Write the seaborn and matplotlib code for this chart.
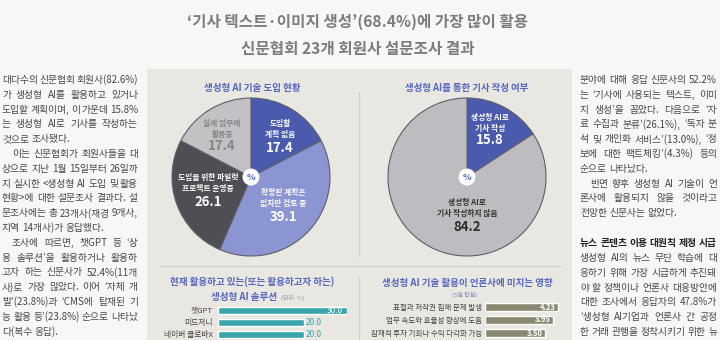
import matplotlib
matplotlib.use("Agg")
import matplotlib.pyplot as plt
from matplotlib.patches import Rectangle, Circle
from matplotlib.lines import Line2D
import seaborn as sns
import pandas as pd

# ---------------- data ----------------
title_lines = ["‘기사 텍스트·이미지 생성’(68.4%)에 가장 많이 활용",
               "신문협회 23개 회원사 설문조사 결과"]

pie1_title = "생성형 AI 기술 도입 현황"
pie1_labels = ["도입할\n계획 없음", "확정된 계획은\n없지만 검토 중",
               "도입을 위한 파일럿\n프로젝트 운영중", "실제 업무에\n활용중"]
pie1_values = [17.4, 39.1, 26.1, 17.4]

pie2_title = "생성형 AI를 통한 기사 작성 여부"
pie2_labels = ["생성형 AI로\n기사 작성", "생성형 AI로\n기사 작성하지 않음"]
pie2_values = [15.8, 84.2]

bar1_title = ["현재 활용하고 있는(또는 활용하고자 하는)", "생성형 AI 솔루션"]
bar1_unit = "(단위: %)"
bar1_labels = ["챗GPT", "미드저니", "네이버 클로바X"]
bar1_values = [30.0, 20.0, 20.0]

bar2_title = "생성형 AI 기술 활용이 언론사에 미치는 영향"
bar2_unit = "(5점 만점)"
bar2_labels = ["표절과 저작권 침해 문제 발생", "업무 속도와 효율성 향상에 도움",
               "잠재적 투자 기회나 수익 다각화 가능"]
bar2_values = [4.23, 3.95, 3.50]

left_text = [
    "대다수의 신문협회 회원사(82.6%)",
    "가 생성형 AI를 활용하고 있거나",
    "도입할 계획이며, 이 가운데 15.8%",
    "는 생성형 AI로 기사를 작성하는",
    "것으로 조사됐다.|",
    " 이는 신문협회가 회원사들을 대",
    "상으로 지난 1월 15일부터 26일까",
    "지 실시한 <생성형 AI 도입 및 활용",
    "현황>에 대한 설문조사 결과다. 설",
    "문조사에는 총 23개사(재경 9개사,",
    "지역 14개사)가 응답했다.|",
    " 조사에 따르면, 챗GPT 등 ‘상",
    "용 솔루션’을 활용하거나 활용하",
    "고자 하는 신문사가 52.4%(11개",
    "사)로 가장 많았다. 이어 ‘자체 개",
    "발’(23.8%)과 ‘CMS에 탑재된 기",
    "능 활용 등’(23.8%) 순으로 나타났",
    "다(복수 응답).|",
]
right_text = [
    "분야에 대해 응답 신문사의 52.2%",
    "는 ‘기사에 사용되는 텍스트, 이미",
    "지 생성’을 꼽았다. 다음으로 ‘자",
    "료 수집과 분류’(26.1%), ‘독자 분",
    "석 및 개인화 서비스’(13.0%), ‘정",
    "보에 대한 팩트체킹’(4.3%) 등의",
    "순으로 나타났다.|",
    " 반면 향후 생성형 AI 기술이 언",
    "론사에 활용되지 않을 것이라고",
    "전망한 신문사는 없었다.|",
]
right_heading = "뉴스 콘텐츠 이용 대원칙 제정 시급"
right_text2 = [
    "생성형 AI의 뉴스 무단 학습에 대",
    "응하기 위해 가장 시급하게 추진돼",
    "야 할 정책이나 언론사 대응방안에",
    "대한 조사에서 응답자의 47.8%가",
    "‘생성형 AI기업과 언론사 간 공정",
    "한 거래 관행을 정착시키기 위한 뉴",
]

# ---------------- style ----------------
PAGE_BG = "#f7f7f5"
BOX_BG = "#e8e7e2"
BLUE_T = "#5667bd"
DBLUE = "#4a5bad"
LBLUE = "#8b95d2"
DGRAY = "#4e4e54"
LGRAY = "#c2c2c5"
TEAL = "#39a5aa"
OLIVE = "#8b8872"
BODY = "#464646"

W, H = 720, 340
sns.set_theme(style="white")
plt.rcParams['font.family'] = ['Noto Sans CJK KR', 'DejaVu Sans']

fig = plt.figure(figsize=(7.2, 3.4), dpi=100)
fig.patch.set_facecolor(PAGE_BG)
renderer = fig.canvas.get_renderer()


def fx(x):
    return x / W


def fy(y):
    return 1 - y / H


def rect_axes(x, y, w, h):
    return fig.add_axes([x / W, 1 - (y + h) / H, w / W, h / H])


def txt(x, y, s, size, color, weight='normal', ha='center', va='center', **kw):
    return fig.text(fx(x), fy(y), s, fontsize=size, color=color,
                    fontweight=weight, ha=ha, va=va, **kw)


def width_px(s, size, weight='normal'):
    t = fig.text(0, 0, s, fontsize=size, fontweight=weight)
    w = t.get_window_extent(renderer).width
    t.remove()
    return w


def fit_size(s, target, weight='normal'):
    return 10 * target / width_px(s, 10, weight)


# background box and rules
fig.add_artist(Rectangle((fx(147), 0), (572 - 147) / W, fy(69), transform=fig.transFigure,
                         facecolor=BOX_BG, edgecolor='none', zorder=0))
fig.add_artist(Line2D([fx(160), fx(560)], [fy(266), fy(266)], transform=fig.transFigure,
                      color="#cfcec9", lw=0.9))
fig.add_artist(Line2D([fx(359), fx(359)], [fy(92), fy(256)], transform=fig.transFigure,
                      color="#d2d1cc", lw=0.9))
fig.add_artist(Line2D([fx(359), fx(359)], [fy(277), fy(340)], transform=fig.transFigure,
                      color="#d2d1cc", lw=0.9))

# headline
for line, y, wt in zip(title_lines, [22, 49], [339, 233]):
    txt(358, y, line, fit_size(line, wt, 'bold'), "#7c7c7c", 'bold')

# ---------------- body text (justified) ----------------
def measure_words(s, size, weight='normal'):
    words = s.strip().split(' ')
    return words, [width_px(w, size, weight) for w in words]


space10 = width_px("가 가", 10) - width_px("가가", 10)


def body_size(lines, target):
    best = 99
    for s in lines:
        if s.endswith('|'):
            continue
        indent = 10 if s.startswith(' ') else 0
        words, ws = measure_words(s, 10)
        nat = sum(ws) + (len(words) - 1) * space10 * 0.6
        best = min(best, 10 * (target - indent) / nat)
    return best


def body_line(s, x0, x1, y, size, color, weight='normal'):
    last = s.endswith('|')
    s = s.rstrip('|')
    indent = 10 if s.startswith(' ') else 0
    words = s.strip().split(' ')
    objs = [txt(0, y, w, size, color, weight, ha='left') for w in words]
    ws = [o.get_window_extent(renderer).width for o in objs]
    sp = space10 * size / 10
    if not last and len(words) > 1:
        gap = (x1 - x0 - indent - sum(ws)) / (len(words) - 1)
    else:
        gap = sp
    x = x0 + indent
    for o, w in zip(objs, ws):
        o.set_x(fx(x))
        x += w + gap


bsize = min(body_size(left_text, 136), body_size(right_text + right_text2, 137))
for i, s in enumerate(left_text):
    body_line(s, 2, 138, 80 + i * 14.8, bsize, BODY)
for i, s in enumerate(right_text):
    body_line(s, 580, 717, 80 + i * 14.8, bsize, BODY)
body_line(right_heading, 580, 717, 243, bsize, "#222222", 'bold')
for i, s in enumerate(right_text2):
    body_line(s, 580, 717, 258 + i * 14.8, bsize, BODY)

# ---------------- pies ----------------
R = 79


def draw_pie(cx, cy, values, colors):
    pad = 2
    ax = rect_axes(cx - R - pad, cy - R - pad, 2 * (R + pad), 2 * (R + pad))
    ax.pie(values, colors=colors, startangle=90, counterclock=False, radius=1,
           wedgeprops=dict(edgecolor="#5e5e66", linewidth=0.8))
    lim = (R + pad) / R
    ax.set_xlim(-lim, lim)
    ax.set_ylim(-lim, lim)
    ax.set_aspect('equal')
    ax.axis('off')
    ax.add_patch(Circle((0, 0), 8.5 / R, facecolor='white', edgecolor='none', zorder=5))
    ax.text(0, 0, "%", ha='center', va='center', fontsize=6.5, fontweight='bold',
            color=BLUE_T, zorder=6)
    return ax


draw_pie(251, 177, pie1_values, [DBLUE, LBLUE, DGRAY, LGRAY])
draw_pie(467, 177, pie2_values, [DBLUE, "#bdbdc1"])

txt(252, 88, pie1_title, fit_size(pie1_title, 97, 'bold'), BLUE_T, 'bold')
txt(467, 88, pie2_title, fit_size(pie2_title, 124, 'bold'), BLUE_T, 'bold')

pie1_pos = [(280, 129, 148), (283, 198, 217), (208, 183, 202), (222, 129, 146)]
pie1_col = ['white', 'white', 'white', '#858585']
for lab, v, (x, yl, yn), c in zip(pie1_labels, pie1_values, pie1_pos, pie1_col):
    txt(x, yl, lab, 5.6, c, 'bold', linespacing=1.25)
    txt(x, yn, f"{v:.1f}", 9.5, c, 'bold')

pie2_pos = [(490, 123, 140), (467, 208, 227)]
pie2_col = ['white', '#2e2e2e']
for lab, v, (x, yl, yn), c in zip(pie2_labels, pie2_values, pie2_pos, pie2_col):
    txt(x, yl, lab, 5.6, c, 'bold', linespacing=1.3)
    txt(x, yn, f"{v:.1f}", 9.5, c, 'bold')

# ---------------- bar sections ----------------
s1 = fit_size(bar1_title[0], 165, 'bold')
txt(252, 282, bar1_title[0], s1, BLUE_T, 'bold')
txt(277, 297, bar1_title[1], s1, BLUE_T, 'bold', ha='right')
txt(281, 298, bar1_unit, 4.3, "#9a9aa6", ha='left')

txt(467, 283, bar2_title, fit_size(bar2_title, 170, 'bold'), BLUE_T, 'bold')
txt(465, 295, bar2_unit, 4.3, "#8088b8")

df1 = pd.DataFrame({"label": bar1_labels, "value": bar1_values})
ax_b1 = rect_axes(218, 304.5, 129, 36)
sns.barplot(data=df1, x="value", y="label", orient='h', color=TEAL, width=0.64,
            saturation=1, ax=ax_b1)
ax_b1.set_xlim(0, 30)
ax_b1.set_ylim(2.5, -0.5)
vmax = max(bar1_values)
for i, v in enumerate(bar1_values):
    if v == vmax:
        ax_b1.annotate(f"{v:.1f}", (v, i), xytext=(-3, 0), textcoords='offset points',
                       ha='right', va='center', fontsize=6, color='white')
    else:
        ax_b1.annotate(f"{v:.1f}", (v, i), xytext=(1.5, 0), textcoords='offset points',
                       ha='left', va='center', fontsize=6, color=TEAL)

df2 = pd.DataFrame({"label": bar2_labels, "value": bar2_values})
ax_b2 = rect_axes(485, 300.5, 86.3, 39)
sns.barplot(data=df2, x="value", y="label", orient='h', color=OLIVE, width=0.55,
            saturation=1, ax=ax_b2)
ax_b2.set_xlim(0, 5)
ax_b2.set_ylim(2.5, -0.5)
for i, v in enumerate(bar2_values):
    ax_b2.annotate(f"{v:.2f}", (v, i), xytext=(-2, 0), textcoords='offset points',
                   ha='right', va='center', fontsize=5.5, color='white',
                   fontweight='bold')

for ax, pad, fs in [(ax_b1, 3.6, 5.6), (ax_b2, 2.2, 5.4)]:
    ax.set_facecolor('none')
    for sp in ax.spines.values():
        sp.set_visible(False)
    ax.set_xticks([])
    ax.set_xlabel('')
    ax.set_ylabel('')
    ax.tick_params(axis='y', length=0, pad=pad, labelsize=fs, labelcolor="#444444")
    ax.grid(False)

fig.savefig("out.png", dpi=100, facecolor=fig.get_facecolor())
